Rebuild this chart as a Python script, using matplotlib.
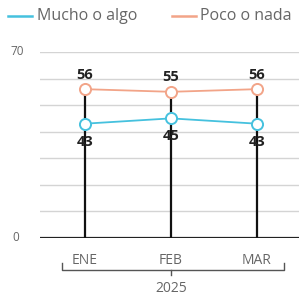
import matplotlib.pyplot as plt
from matplotlib.lines import Line2D

# data
months = ['ENE', 'FEB', 'MAR']
year = '2025'
mucho = [43, 45, 43]
poco = [56, 55, 56]

blue = '#45c1de'
pink = '#f2a488'
grey = '#666666'

plt.rcParams['font.family'] = ['Open Sans', 'DejaVu Sans']

fig = plt.figure(figsize=(2.99, 2.97), dpi=100)
ax = fig.add_axes([0.134, 0.199, 0.866, 0.626])

x = list(range(len(months)))

# gridlines
for v in range(10, 71, 10):
    ax.axhline(v, color='#d4d4d4', lw=1.0, zorder=0)
ax.axhline(0, color='#222222', lw=1.6, zorder=1)

# vertical stems
for xi, p in zip(x, poco):
    ax.plot([xi, xi], [0, p], color='#111111', lw=1.6, zorder=2)

ax.plot(x, mucho, color=blue, lw=1.3, marker='o', ms=8, mfc='white',
        mec=blue, mew=1.4, zorder=3)
ax.plot(x, poco, color=pink, lw=1.3, marker='o', ms=8, mfc='white',
        mec=pink, mew=1.4, zorder=3)

for xi, p in zip(x, poco):
    ax.annotate(str(p), (xi, p), xytext=(0, 10.5), textcoords='offset points',
                ha='center', va='center', fontsize=10.5, fontweight='bold',
                color='#222222', zorder=4)
for xi, m in zip(x, mucho):
    ax.annotate(str(m), (xi, m), xytext=(0, -13), textcoords='offset points',
                ha='center', va='center', fontsize=10.5, fontweight='bold',
                color='#222222', zorder=4)

ax.set_xlim(-0.52, 2.49)
ax.set_ylim(0, 70)
for s in ax.spines.values():
    s.set_visible(False)
ax.set_xticks([])
ax.set_yticks([])

# y labels
ax.text(-0.78, 70, '70', ha='center', va='center', fontsize=8.5, color=grey)
ax.text(-0.8, 0, '0', ha='center', va='center', fontsize=8.5, color=grey)

# x labels
for xi, m in zip(x, months):
    ax.text(xi, -8.5, m, ha='center', va='center', fontsize=10, color=grey,
            clip_on=False)

# bracket under months
bx0, bx1 = -0.27, 2.31
yb = -12
ax.plot([bx0, bx0, bx1, bx1], [yb + 2.5, yb, yb, yb + 2.5], color='#555555',
        lw=1.0, clip_on=False)
ax.plot([1, 1], [yb, yb - 2.0], color='#555555', lw=1.0, clip_on=False)
ax.text(1, -19, year, ha='center', va='center', fontsize=10, color=grey,
        clip_on=False)

# legend
fig.add_artist(Line2D([0.027, 0.107], [0.946, 0.946], color=blue, lw=1.8))
fig.text(0.125, 0.946, 'Mucho o algo', ha='left', va='center',
         fontsize=11.5, color=grey)
fig.add_artist(Line2D([0.575, 0.655], [0.946, 0.946], color=pink, lw=1.8))
fig.text(0.668, 0.946, 'Poco o nada', ha='left', va='center',
         fontsize=11.5, color=grey)

fig.savefig('out.png', dpi=100)
